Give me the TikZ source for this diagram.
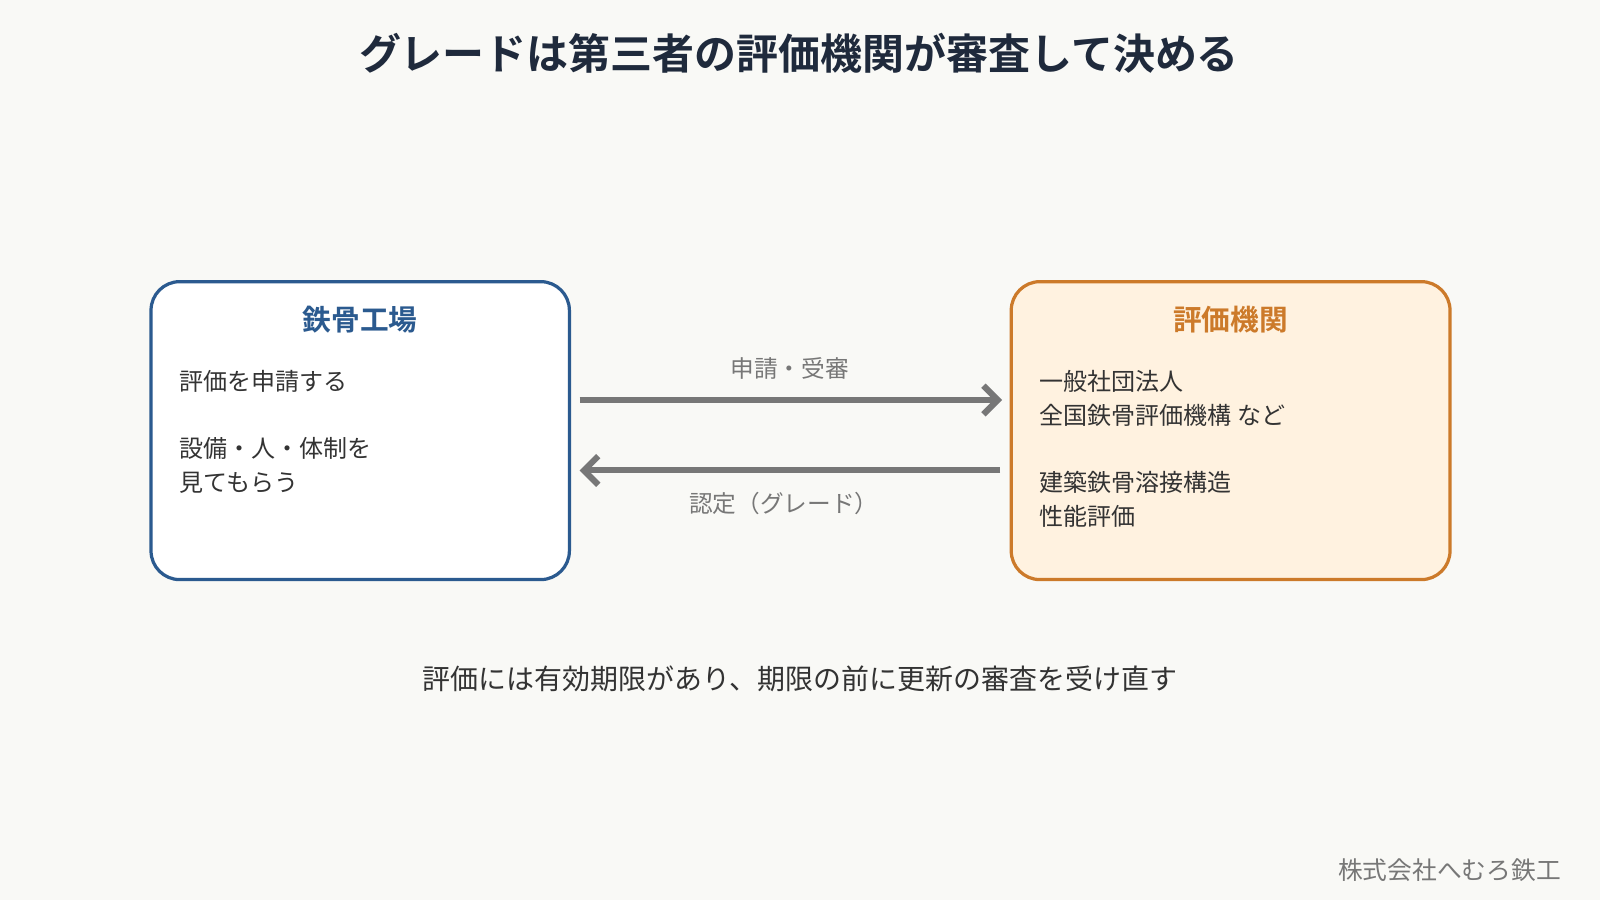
\documentclass[tikz,border=0pt]{standalone}
\usepackage{fontspec}
\setmainfont{Noto Sans CJK JP}[BoldFont={Noto Sans CJK JP Bold}]
\usetikzlibrary{positioning}
\usetikzlibrary{arrows.meta}
\definecolor{bgcol}{HTML}{F9F9F6}
\definecolor{factblue}{HTML}{2B5A8F}
\definecolor{orgorange}{HTML}{CC7A2A}
\definecolor{orgfill}{HTML}{FFF2E0}
\definecolor{arrowgray}{HTML}{777777}
\definecolor{txt}{HTML}{333333}
\definecolor{titlecol}{HTML}{1F2A3C}

\tikzset{
	box/.style={draw, line width=0.9pt, rounded corners=8pt, minimum height=2.92cm},
	head/.style={font=\bfseries\fontsize{8}{10}\selectfont},
	body/.style={anchor=north west, align=left, text=txt, font=\fontsize{6.7}{9.4}\selectfont, inner sep=0pt},
	flow/.style={draw=arrowgray, line width=1.7pt, ->, >={Straight Barb[length=4pt,width=8pt]}},
	flowlabel/.style={text=arrowgray, font=\fontsize{6.6}{8}\selectfont}
}

\begin{document}
\begin{tikzpicture}
\fill[bgcol] (0,0) rectangle (15.68,8.82);
\useasboundingbox (0,0) rectangle (15.68,8.82);

\node[text=titlecol, font=\bfseries\fontsize{11.7}{14}\selectfont] (title) at (7.83,8.30) {グレードは第三者の評価機関が審査して決める};

% boxes
\node[box, draw=factblue, fill=white, minimum width=4.1cm] (factory) at (3.53,4.60) {};
\node[box, draw=orgorange, fill=orgfill, minimum width=4.3cm] (org) at (12.06,4.60) {};

\node[head, text=factblue] (factoryhead) at (3.53,5.69) {鉄骨工場};
\node[head, text=orgorange] (orghead) at (12.06,5.69) {評価機関};

\node[body] (factorytext) at (1.75,5.20) {評価を申請する\\[9.4pt]設備・人・体制を\\見てもらう};
\node[body] (orgtext) at (10.18,5.20) {一般社団法人\\全国鉄骨評価機構 など\\[9.4pt]建築鉄骨溶接構造\\性能評価};

% arrows
\coordinate (apply1) at (5.68,4.90);
\coordinate (apply2) at (9.82,4.90);
\coordinate (cert1) at (9.80,4.21);
\coordinate (cert2) at (5.68,4.21);
\draw[flow] (apply1) -- (apply2);
\draw[flow] (cert1) -- (cert2);
\node[flowlabel] (applylabel) at (7.74,5.21) {申請・受審};
\node[flowlabel] (certlabel) at (7.68,3.89) {認定（グレード）};

\node[text=txt, font=\fontsize{7.8}{9}\selectfont] (note) at (7.84,2.17) {評価には有効期限があり、期限の前に更新の審査を受け直す};
\node[anchor=east, text=arrowgray, font=\fontsize{6.9}{8}\selectfont] (footer) at (15.42,0.29) {株式会社へむろ鉄工};
\end{tikzpicture}
\end{document}
